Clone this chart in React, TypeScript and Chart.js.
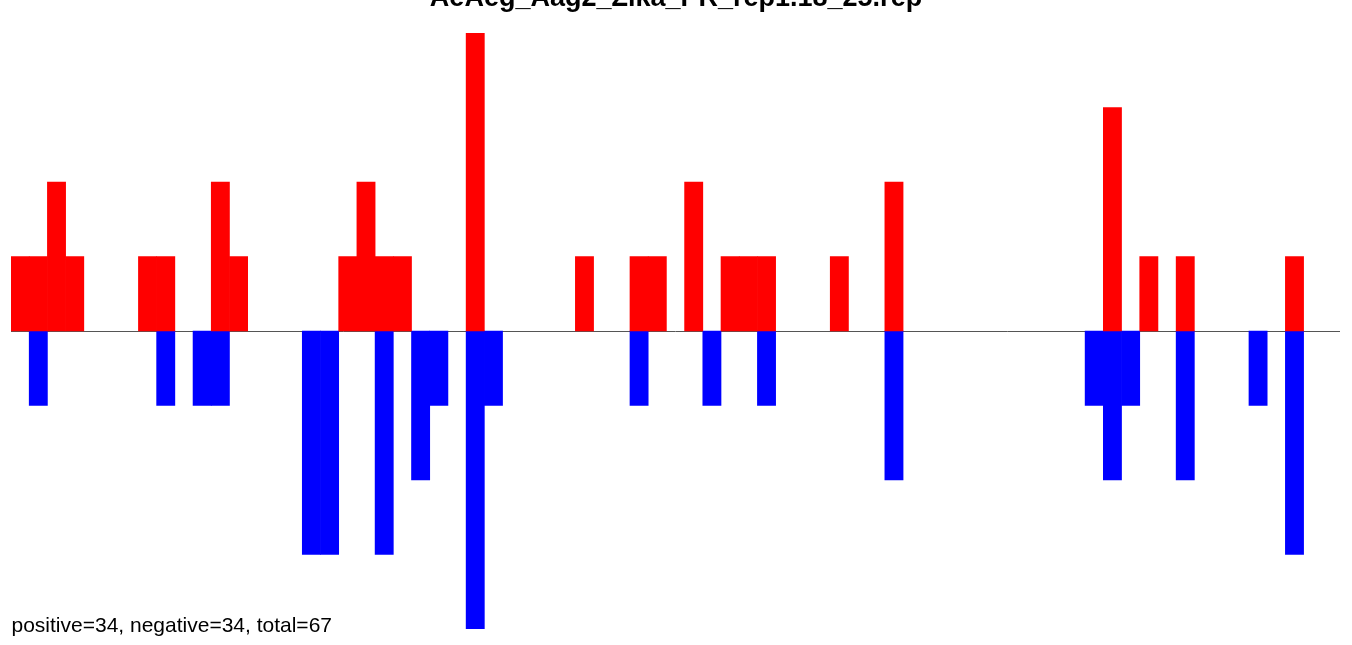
import React, { useEffect, useRef } from "react";
import { Chart, registerables } from "chart.js";

Chart.register(...registerables);

const TITLE = "AeAeg_Aag2_Zika_PR_rep1.18_25.rep";
const FOOTNOTE = "positive=34, negative=34, total=67";

const positions = [
  1, 2, 3, 4, 5, 6, 7, 8, 9, 10, 11, 12, 13, 14, 15, 16, 17, 18, 19, 20,
  21, 22, 23, 24, 25, 26, 27, 28, 29, 30, 31, 32, 33, 34, 35, 36, 37, 38, 39, 40,
  41, 42, 43, 44, 45, 46, 47, 48, 49, 50, 51, 52, 53, 54, 55, 56, 57, 58, 59, 60,
  61, 62, 63, 64, 65, 66, 67, 68, 69, 70, 71, 72, 73,
];

const positiveCounts = [
  1, 1, 2, 1, 0, 0, 0, 1, 1, 0, 0, 2, 1, 0, 0, 0, 0, 0, 1, 2,
  1, 1, 0, 0, 0, 4, 0, 0, 0, 0, 0, 1, 0, 0, 1, 1, 0, 2, 0, 1,
  1, 1, 0, 0, 0, 1, 0, 0, 2, 0, 0, 0, 0, 0, 0, 0, 0, 0, 0, 0,
  3, 0, 1, 0, 1, 0, 0, 0, 0, 0, 1, 0, 0,
];

const negativeCounts = [
  0, -1, 0, 0, 0, 0, 0, 0, -1, 0, -1, -1, 0, 0, 0, 0, -3, -3, 0, 0,
  -3, 0, -2, -1, 0, -4, -1, 0, 0, 0, 0, 0, 0, 0, -1, 0, 0, 0, -1, 0,
  0, -1, 0, 0, 0, 0, 0, 0, -2, 0, 0, 0, 0, 0, 0, 0, 0, 0, 0, -1,
  -2, -1, 0, 0, -2, 0, 0, 0, -1, 0, -3, 0, 0,
];

const Y_MIN = -4;
const Y_MAX = 4;

const FONT = '"Liberation Sans", Arial, Helvetica, sans-serif';

const decorPlugin = {
  id: "decor",
  beforeDatasetsDraw(chart: any) {
    const { ctx, chartArea, scales } = chart;
    const y0 = Math.floor(scales.y.getPixelForValue(0)) + 0.5;
    ctx.save();
    ctx.strokeStyle = "#555555";
    ctx.lineWidth = 1;
    ctx.beginPath();
    ctx.moveTo(chartArea.left, y0);
    ctx.lineTo(chartArea.right, y0);
    ctx.stroke();
    ctx.restore();
  },
  afterDraw(chart: any) {
    const { ctx, width } = chart;
    ctx.save();
    ctx.fillStyle = "#000000";
    ctx.font = `bold 27px ${FONT}`;
    ctx.textAlign = "center";
    ctx.textBaseline = "alphabetic";
    ctx.fillText(TITLE, width / 2, 5.5);
    ctx.font = `21px ${FONT}`;
    ctx.textAlign = "left";
    ctx.fillText(FOOTNOTE, 11.5, 631.5);
    ctx.restore();
  },
};

const nonZero = (arr: number[]) => arr.map((v) => (v === 0 ? null : v));

export default function App() {
  const canvasRef = useRef<HTMLCanvasElement | null>(null);

  useEffect(() => {
    if (!canvasRef.current) return;
    const chart = new Chart(canvasRef.current, {
      type: "bar",
      data: {
        labels: positions.map(String),
        datasets: [
          {
            label: "positive",
            data: nonZero(positiveCounts),
            backgroundColor: "#ff0000",
            borderWidth: 0,
            barPercentage: 1,
            categoryPercentage: 1,
          },
          {
            label: "negative",
            data: nonZero(negativeCounts),
            backgroundColor: "#0000ff",
            borderWidth: 0,
            barPercentage: 1,
            categoryPercentage: 1,
          },
        ],
      },
      options: {
        responsive: false,
        animation: false,
        devicePixelRatio: 1,
        layout: { padding: { left: 11, right: 12, top: 33, bottom: 16 } },
        plugins: {
          legend: { display: false },
          tooltip: { enabled: false },
          title: { display: false },
        },
        scales: {
          x: { stacked: true, display: false, grid: { display: false } },
          y: {
            stacked: true,
            display: false,
            min: Y_MIN,
            max: Y_MAX,
            grid: { display: false },
          },
        },
      },
      plugins: [decorPlugin],
    });
    return () => chart.destroy();
  }, []);

  return (
    <div style={{ position: "absolute", left: 0, top: 0, width: 1352, height: 645, background: "#ffffff" }}>
      <canvas ref={canvasRef} width={1352} height={645} style={{ display: "block" }} />
    </div>
  );
}
